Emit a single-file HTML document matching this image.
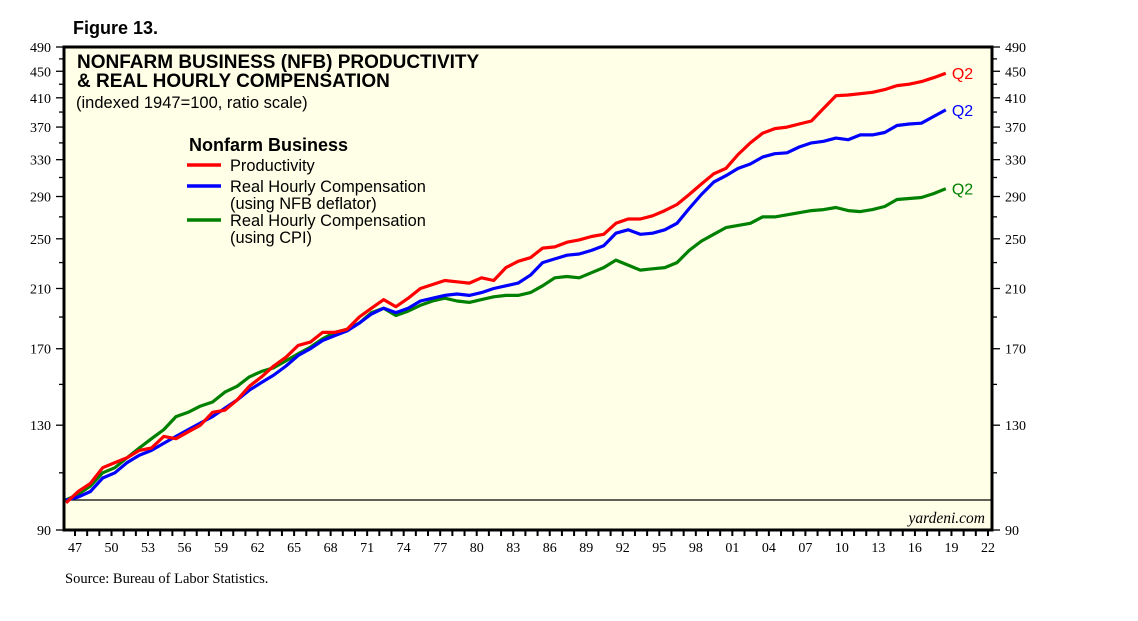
<!DOCTYPE html>
<html><head><meta charset="utf-8"><style>
body{margin:0;background:#fff;}
svg{display:block;}
.sans{font-family:"Liberation Sans",Arial,sans-serif;}
.serif{font-family:"Liberation Serif","Times New Roman",serif;}
</style></head><body>
<svg id="chart" width="1138" height="621" xmlns="http://www.w3.org/2000/svg">
<text x="73" y="34" class="sans" font-size="18" font-weight="bold">Figure 13.</text>
<rect x="64" y="47" width="928" height="483" fill="#ffffe8" stroke="none"/>
<g id="axes"></g>
<g id="series"></g>
<rect x="64" y="47" width="928" height="483" fill="none" stroke="#000" stroke-width="3"/>
<text x="77" y="68" class="sans" font-size="19" font-weight="bold">NONFARM BUSINESS (NFB) PRODUCTIVITY</text>
<text x="77" y="87" class="sans" font-size="19" font-weight="bold">&amp; REAL HOURLY COMPENSATION</text>
<text x="76" y="108" class="sans" font-size="16.5">(indexed 1947=100, ratio scale)</text>
<g>
<text x="189" y="151" class="sans" font-size="18" font-weight="bold">Nonfarm Business</text>
<line x1="187" y1="165" x2="221" y2="165" stroke="#ff0000" stroke-width="3.5"/>
<text x="230" y="171" class="sans" font-size="16.4">Productivity</text>
<line x1="187" y1="186" x2="221" y2="186" stroke="#0000ff" stroke-width="3.5"/>
<text x="230" y="192" class="sans" font-size="16.4">Real Hourly Compensation</text>
<text x="230" y="209" class="sans" font-size="16.4">(using NFB deflator)</text>
<line x1="187" y1="220" x2="221" y2="220" stroke="#008000" stroke-width="3.5"/>
<text x="230" y="226" class="sans" font-size="16.4">Real Hourly Compensation</text>
<text x="230" y="243" class="sans" font-size="16.4">(using CPI)</text>
</g>
<text x="985" y="523" class="serif" font-size="15.5" font-style="italic" text-anchor="end">yardeni.com</text>
<text x="65" y="583" class="serif" font-size="14.5">Source: Bureau of Labor Statistics.</text>
</svg>
<script>
const years = [];
for (let y = 1947; y <= 2019; y++) years.push(y);
const productivity = [99,103,106,112,114,116,119,120,125,124,127,130,136,137,142,149,154,160,165,172,174,180,180,182,190,196,202,197,203,210,213,216,215,214,218,216,226,231,234,242,243,247,249,252,254,264,268,268,271,276,282,292,303,314,320,336,350,362,368,370,374,378,395,413,414,416,418,422,428,430,434,440,447];
const compNfb = [100,101,103,108,110,114,117,119,122,125,128,131,134,138,142,147,151,155,160,166,170,175,178,181,186,192,196,193,196,201,203,205,206,205,207,210,212,214,220,230,233,236,237,240,244,255,258,254,255,258,264,278,292,305,312,320,325,333,337,338,345,350,352,356,354,360,360,363,372,374,375,384,393];
const compCpi = [100,102,105,110,112,116,120,124,128,134,136,139,141,146,149,154,157,159,163,167,171,176,180,182,186,193,196,191,194,198,201,203,201,200,202,204,205,205,207,212,218,219,218,222,226,232,228,224,225,226,230,240,248,254,260,262,264,270,270,272,274,276,277,279,276,275,277,280,287,288,289,293,298];
const yTicks = [90,130,170,210,250,290,330,370,410,450,490];
const xTickLabels = ["47","50","53","56","59","62","65","68","71","74","77","80","83","86","89","92","95","98","01","04","07","10","13","16","19","22"];

const NS = "http://www.w3.org/2000/svg";
const L = 64, R = 992, T = 47, B = 530;
const yMin = 90, yMax = 490;
function yScale(v){ return B - (Math.log(v) - Math.log(yMin)) / (Math.log(yMax) - Math.log(yMin)) * (B - T); }
function xData(yr){ return 66 + (yr - 1947) * 12.22; }
function xTick(i){ return 75 + i * 3 * 12.173; }

const axes = document.getElementById('axes');
function mk(tag, attrs, parent){ const e = document.createElementNS(NS, tag); for (const k in attrs) e.setAttribute(k, attrs[k]); parent.appendChild(e); return e; }

for (let v = 90; v <= 490; v += 20) {
  const y = yScale(v);
  const major = yTicks.includes(v);
  const t1 = mk('line', {x1: major ? 56 : 59, x2: L, y1: y, y2: y, stroke: '#000', 'stroke-width': 1.3}, axes);
  
  
  const t2 = mk('line', {x1: R, x2: major ? 1000 : 997, y1: y, y2: y, stroke: '#000', 'stroke-width': 1.3}, axes);
  
  
}
yTicks.forEach(v => {
  const y = yScale(v);
  const a = mk('text', {x: 51, y: y + 5, 'text-anchor': 'end', 'font-size': 14, class: 'serif'}, axes);
  a.textContent = v;
  
  
  const b = mk('text', {x: 1005, y: y + 5, 'font-size': 14, class: 'serif'}, axes);
  b.textContent = v;
  
  
});
const base = mk('line', {x1: L, x2: R, y1: yScale(100), y2: yScale(100), stroke: '#000', 'stroke-width': 1.2}, axes);



for (let yr = 1947; yr <= 2022; yr++) {
  const x = 75 + (yr - 1947) * 12.173;
  const t = mk('line', {x1: x, x2: x, y1: B, y2: B + 6, stroke: '#000', 'stroke-width': 2}, axes);
  
  
}
xTickLabels.forEach((lab, i) => {
  const t = mk('text', {x: xTick(i), y: 552, 'text-anchor': 'middle', 'font-size': 14, class: 'serif'}, axes);
  t.textContent = lab;
  
  
});

const ser = document.getElementById('series');
[[compCpi, '#008000', 'series-comp-cpi'], [compNfb, '#0000ff', 'series-comp-nfb'], [productivity, '#ff0000', 'series-productivity']].forEach(([vals, col, name]) => {
  const pts = vals.map((v, i) => xData(years[i]).toFixed(1) + ',' + yScale(v).toFixed(1)).join(' ');
  const p = mk('polyline', {points: pts, fill: 'none', stroke: col, 'stroke-width': 3.2, 'stroke-linejoin': 'round'}, ser);
  
  
  const last = vals[vals.length - 1];
  const q = mk('text', {x: xData(years[years.length - 1]) + 6, y: yScale(last) + 6, fill: col, 'font-size': 16, class: 'sans'}, ser);
  q.textContent = 'Q2';
  
  
});
</script>
</body></html>
